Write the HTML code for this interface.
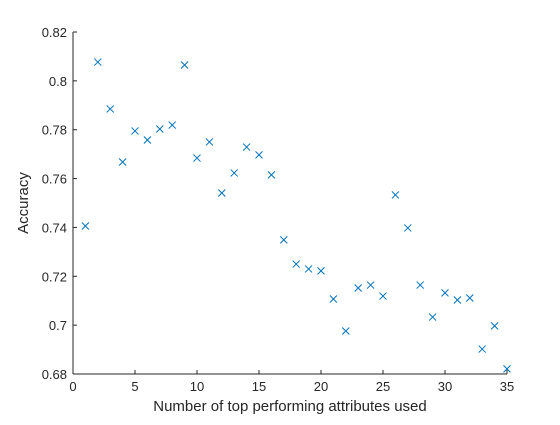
<!DOCTYPE html>
<html><head><meta charset="utf-8"><style>
body{margin:0;background:#fff;}
svg text{font-family:"Liberation Sans",sans-serif;fill:#262626;}
</style></head><body>
<svg id="chart" width="560" height="420" xmlns="http://www.w3.org/2000/svg">
<rect width="560" height="420" fill="#fff"/>
<g id="axes"></g>
<g id="marks"></g>
<text x="290" y="411" font-size="15" text-anchor="middle">Number of top performing attributes used</text>
<text transform="translate(28,203) rotate(-90)" font-size="15" text-anchor="middle">Accuracy</text>
</svg>
<script>
const attributes=[1,2,3,4,5,6,7,8,9,10,11,12,13,14,15,16,17,18,19,20,21,22,23,24,25,26,27,28,29,30,31,32,33,34,35];
const accuracy=[0.7406,0.8077,0.7885,0.7668,0.7795,0.7758,0.7803,0.7819,0.8065,0.7684,0.7750,0.7541,0.7623,0.7729,0.7697,0.7615,0.7349,0.7250,0.7230,0.7222,0.7107,0.6976,0.7152,0.7164,0.7119,0.7533,0.7398,0.7164,0.7033,0.7132,0.7103,0.7111,0.6902,0.6997,0.6821];
const xTicks=[0,5,10,15,20,25,30,35];
const yTicks=[0.68,0.7,0.72,0.74,0.76,0.78,0.8,0.82];
const yTickLabels=["0.68","0.7","0.72","0.74","0.76","0.78","0.8","0.82"];
const X0=73,X1=507,Y0=374,Y1=32,xmin=0,xmax=35,ymin=0.68,ymax=0.82;
const sx=v=>X0+(v-xmin)/(xmax-xmin)*(X1-X0);
const sy=v=>Y0-(v-ymin)/(ymax-ymin)*(Y0-Y1);
const NS="http://www.w3.org/2000/svg";
const ax=document.getElementById('axes'),mk=document.getElementById('marks');
function mkEl(t,a,p){const e=document.createElementNS(NS,t);for(const k in a)e.setAttribute(k,a[k]);p.appendChild(e);return e;}
const xl=mkEl('line',{x1:X0,y1:Y0,x2:X1,y2:Y0,stroke:'#262626','stroke-width':1},ax);


const yl=mkEl('line',{x1:X0,y1:Y0,x2:X0,y2:Y1,stroke:'#262626','stroke-width':1},ax);


xTicks.forEach(v=>{const x=sx(v);
 mkEl('line',{x1:x,y1:Y0,x2:x,y2:Y0-4,stroke:'#262626'},ax);
 const t=mkEl('text',{x:x,y:Y0+17,'font-size':13,'text-anchor':'middle'},ax);t.textContent=v;
 
 });
yTicks.forEach((v,i)=>{const y=sy(v);
 mkEl('line',{x1:X0,y1:y,x2:X0+4,y2:y,stroke:'#262626'},ax);
 const t=mkEl('text',{x:X0-6,y:y+5,'font-size':13,'text-anchor':'end'},ax);t.textContent=yTickLabels[i];
 
 });
attributes.forEach((a,i)=>{const x=sx(a),y=sy(accuracy[i]),r=3.5;
 const p=mkEl('path',{d:`M${x-r},${y-r}L${x+r},${y+r}M${x-r},${y+r}L${x+r},${y-r}`,stroke:'#0072BD','stroke-width':1,fill:'none'},mk);
 
 });
</script>
</body></html>
